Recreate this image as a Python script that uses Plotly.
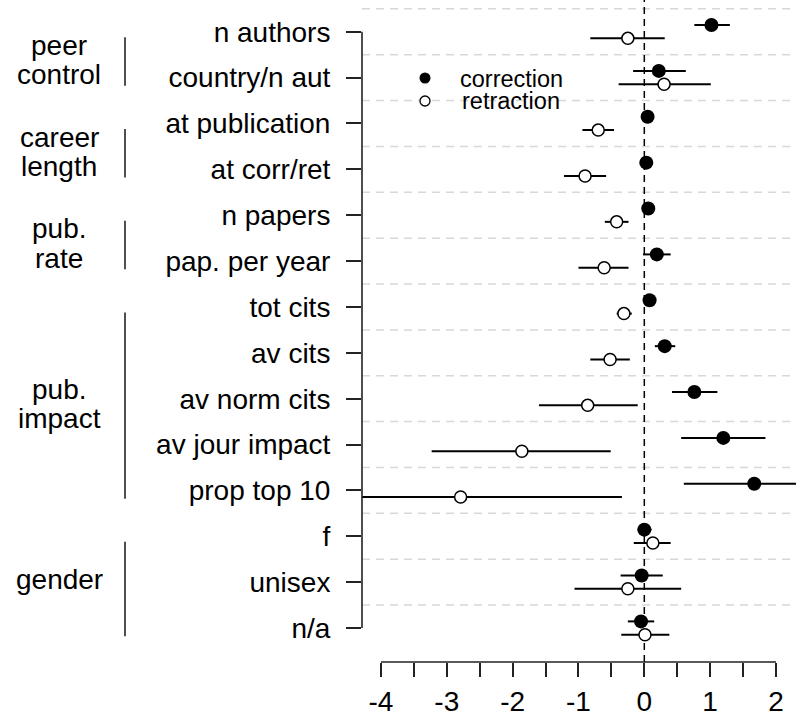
import plotly.graph_objects as go

labels = ["n authors", "country/n aut", "at publication", "at corr/ret", "n papers",
          "pap. per year", "tot cits", "av cits", "av norm cits", "av jour impact",
          "prop top 10", "f", "unisex", "n/a"]

corr_est = [1.02, 0.22, 0.05, 0.03, 0.06, 0.19, 0.08, 0.31, 0.76, 1.20, 1.67, 0.00, -0.04, -0.05]
corr_lo = [0.76, -0.17, 0.00, -0.06, 0.01, -0.02, 0.03, 0.16, 0.42, 0.56, 0.60, -0.10, -0.36, -0.25]
corr_hi = [1.30, 0.63, 0.10, 0.12, 0.11, 0.40, 0.13, 0.47, 1.11, 1.84, 2.74, 0.11, 0.28, 0.15]

ret_est = [-0.25, 0.30, -0.70, -0.90, -0.42, -0.61, -0.31, -0.52, -0.86, -1.86, -2.79, 0.13, -0.25, 0.01]
ret_lo = [-0.82, -0.39, -0.94, -1.22, -0.60, -1.00, -0.42, -0.82, -1.60, -3.23, -5.24, -0.16, -1.06, -0.35]
ret_hi = [0.31, 1.01, -0.46, -0.58, -0.24, -0.24, -0.19, -0.22, -0.10, -0.51, -0.34, 0.40, 0.56, 0.38]

groups = [(["peer", "control"], 0, 1), (["career", "length"], 2, 3), (["pub.", "rate"], 4, 5),
          (["pub.", "impact"], 6, 10), (["gender"], 11, 13)]

x_tick_vals = [-4, -3.5, -3, -2.5, -2, -1.5, -1, -0.5, 0, 0.5, 1, 1.5, 2]
x_tick_text = ["-4", "", "-3", "", "-2", "", "-1", "", "0", "", "1", "", "2"]
legend_names = ["correction", "retraction"]

FONT = "Liberation Sans, Arial, sans-serif"
W, H = 796, 717
L, R, T, B = 362, 0, 0, 55
PW, PH = W - L - R, H - T - B

def pxx(px):
    return (px - L) / PW

def pxy(py):
    return 1 - (py - T) / PH

idx = list(range(len(labels)))
off = 0.145

fig = go.Figure()
fig.add_trace(go.Scatter(
    x=corr_est, y=[i - off for i in idx], mode="markers",
    marker=dict(size=14, color="black", line=dict(width=0)),
    error_x=dict(type="data", symmetric=False,
                 array=[h - e for h, e in zip(corr_hi, corr_est)],
                 arrayminus=[e - l for e, l in zip(corr_est, corr_lo)],
                 width=0, thickness=2, color="black"),
    showlegend=False, name=legend_names[0]))
fig.add_trace(go.Scatter(
    x=ret_est, y=[i + off for i in idx], mode="markers",
    marker=dict(size=12, color="white", line=dict(width=1.5, color="black")),
    error_x=dict(type="data", symmetric=False,
                 array=[h - e for h, e in zip(ret_hi, ret_est)],
                 arrayminus=[e - l for e, l in zip(ret_est, ret_lo)],
                 width=0, thickness=2, color="black"),
    showlegend=False, name=legend_names[1]))

shapes = []
# horizontal dashed grid lines
for i in idx:
    shapes.append(dict(type="line", xref="paper", x0=0, x1=1, yref="y", y0=i - 0.5, y1=i - 0.5,
                       line=dict(color="#d8d8d8", width=1.5, dash="8px,6px"), layer="below"))
# zero line
shapes.append(dict(type="line", xref="x", x0=0, x1=0, yref="paper", y0=0, y1=1,
                   line=dict(color="black", width=1.5, dash="7px,5px"), layer="below"))
# x axis line
shapes.append(dict(type="line", xref="x", x0=-4, x1=2, yref="paper", y0=0, y1=0,
                   line=dict(color="#222", width=1.6)))
# y axis line
shapes.append(dict(type="line", xref="paper", x0=0, x1=0, yref="y", y0=0, y1=len(labels) - 1,
                   line=dict(color="#222", width=1.6)))

annotations = []
for lines, a, b in groups:
    y0, y1 = a + 0.12, b + 0.18
    shapes.append(dict(type="line", xref="paper", x0=pxx(125), x1=pxx(125), yref="y", y0=y0, y1=y1,
                       line=dict(color="#222", width=1.6)))
    mid = (y0 + y1) / 2
    if len(lines) == 2:
        pos = [mid - 0.35, mid + 0.29]
    else:
        pos = [mid - 0.2]
    for t, yy in zip(lines, pos):
        annotations.append(dict(text=t, xref="paper", x=pxx(59), yref="y", y=yy,
                                xanchor="center", yanchor="middle", showarrow=False,
                                font=dict(size=28, color="black", family=FONT)))

# legend
shapes.append(dict(type="circle", xref="paper", yref="paper",
                   x0=pxx(425 - 5.5), x1=pxx(425 + 5.5), y0=pxy(78 + 5.5), y1=pxy(78 - 5.5),
                   fillcolor="black", line=dict(width=0)))
shapes.append(dict(type="circle", xref="paper", yref="paper",
                   x0=pxx(425 - 5), x1=pxx(425 + 5), y0=pxy(101 + 5), y1=pxy(101 - 5),
                   fillcolor="white", line=dict(width=1.3, color="black")))
for t, yy in zip(legend_names, [79, 101]):
    annotations.append(dict(text=t, xref="paper", x=pxx(511), yref="paper", y=pxy(yy),
                            xanchor="center", yanchor="middle", showarrow=False,
                            font=dict(size=23.5, color="black", family=FONT)))

fig.update_layout(
    width=W, height=H, margin=dict(l=L, r=R, t=T, b=B),
    paper_bgcolor="white", plot_bgcolor="white",
    font=dict(family=FONT, size=28, color="black"),
    xaxis=dict(range=[-4.288, 2.304], tickvals=x_tick_vals, ticktext=x_tick_text,
               ticks="outside", ticklen=14, tickwidth=1.6, tickcolor="#222",
               showgrid=False, zeroline=False, showline=False,
               tickfont=dict(size=28, family=FONT, color="black")),
    yaxis=dict(range=[13.74, -0.691], tickvals=idx, ticktext=labels,
               ticks="outside", ticklen=15, tickwidth=1.6, tickcolor="#222",
               showgrid=False, zeroline=False, showline=False, ticklabelstandoff=10,
               tickfont=dict(size=28, family=FONT, color="black")),
    shapes=shapes, annotations=annotations,
)

fig.write_html("out.html", config={"displayModeBar": False},
               post_script="document.body.style.margin='0px';document.body.style.overflow='hidden';")
